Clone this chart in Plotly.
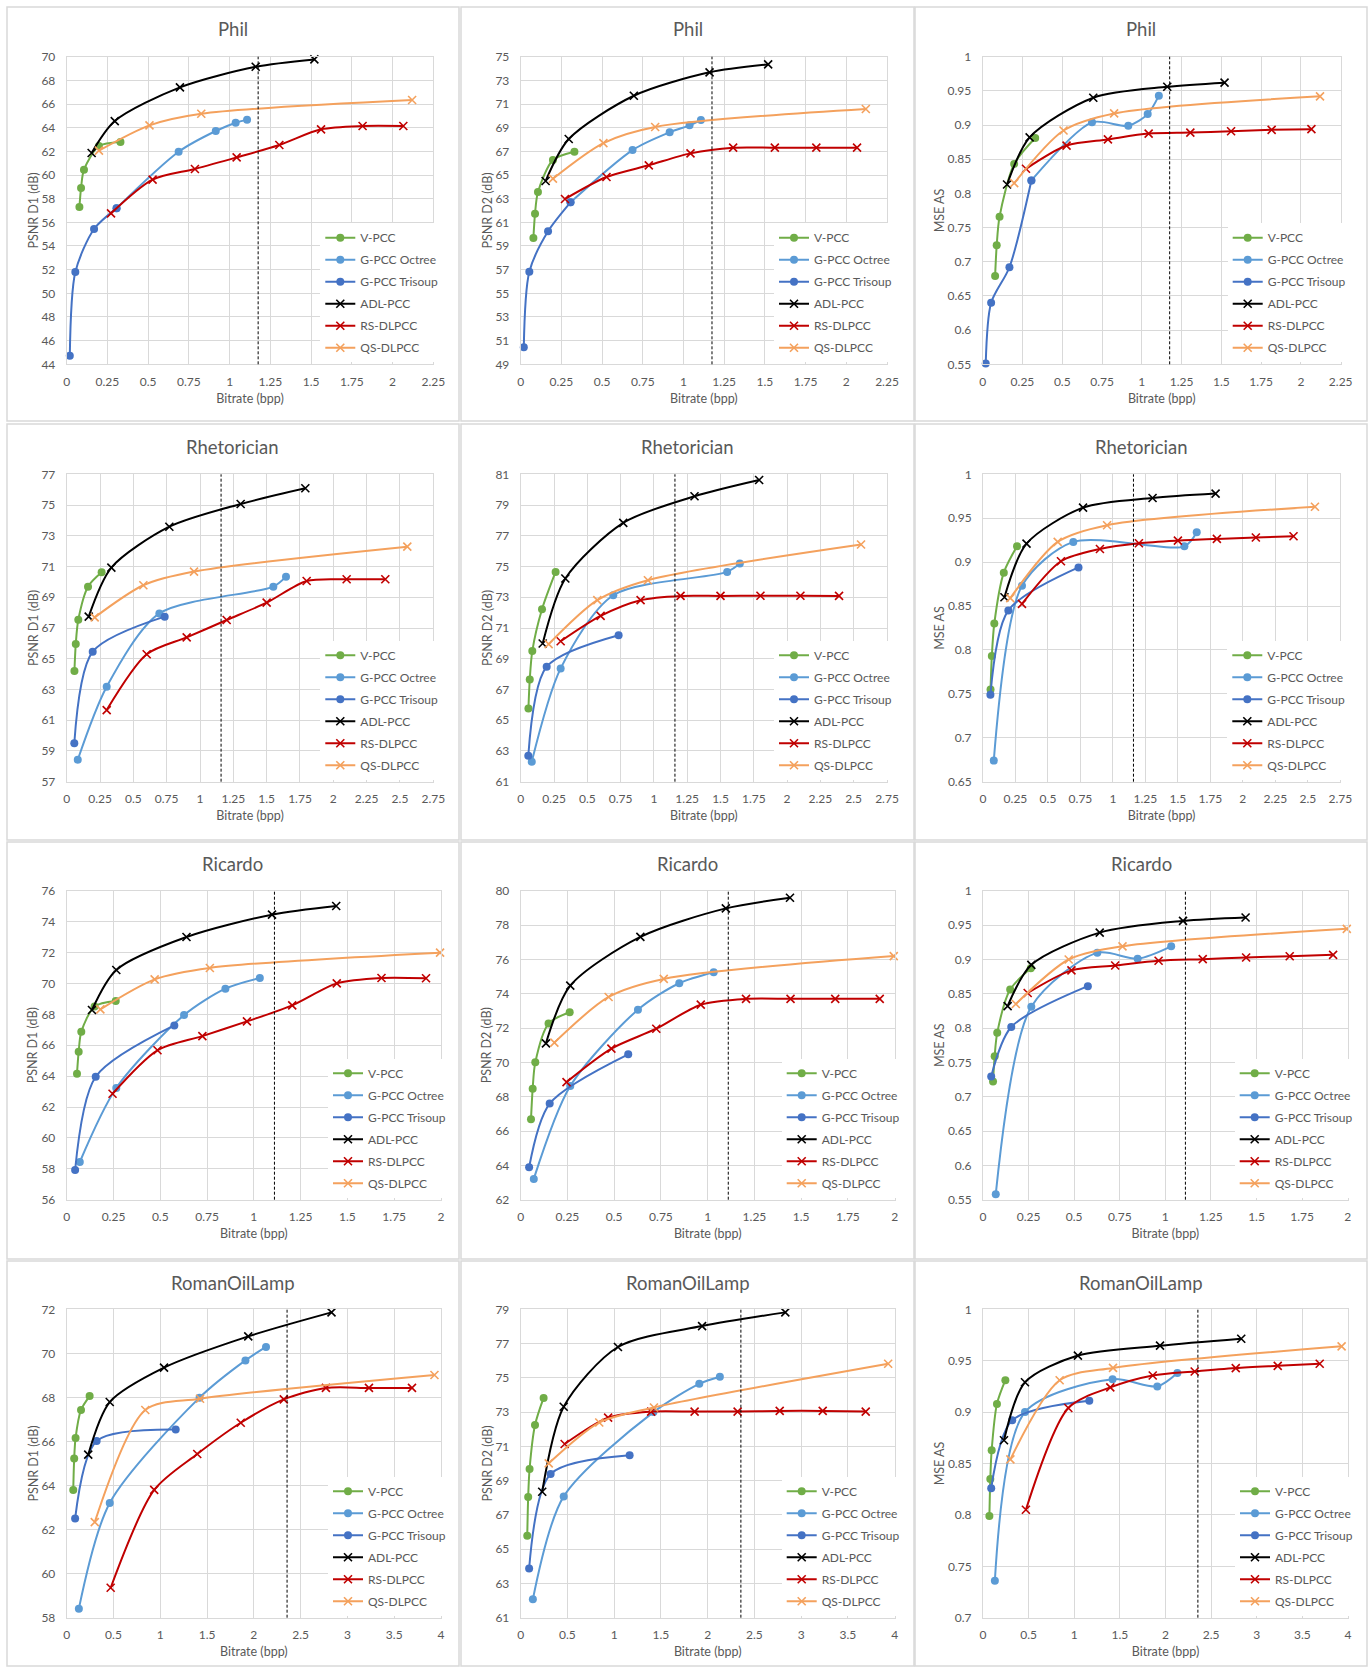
import plotly.graph_objects as go

W, H = 1372, 1669

DATASETS = ["Phil", "Rhetorician", "Ricardo", "RomanOilLamp"]
METRIC_TITLES = ["PSNR D1 (dB)", "PSNR D2 (dB)", "MSE AS"]
X_TITLE = "Bitrate (bpp)"
CODECS = ["V-PCC", "G-PCC Octree", "G-PCC Trisoup", "ADL-PCC", "RS-DLPCC", "QS-DLPCC"]

# ---------------- data (bitrate in bpp; one list per codec, CODECS order) -------------
PHIL_BPP = [
    [0.078, 0.088, 0.106, 0.198, 0.33],
    [0.306, 0.687, 0.915, 1.037, 1.107],
    [0.019, 0.053, 0.168, 0.306],
    [0.153, 0.295, 0.695, 1.16, 1.52],
    [0.272, 0.527, 0.787, 1.043, 1.305, 1.561, 1.816, 2.066],
    [0.198, 0.508, 0.826, 2.12],
]
PHIL_D1 = [
    [57.3, 58.9, 60.45, 62.45, 62.8],
    [57.2, 61.97, 63.72, 64.42, 64.68],
    [44.73, 51.8, 55.44, 57.18],
    [61.86, 64.56, 67.41, 69.15, 69.77],
    [56.76, 59.61, 60.51, 61.49, 62.54, 63.86, 64.14, 64.14],
    [62.06, 64.2, 65.18, 66.34],
]
PHIL_D2 = [
    [59.68, 61.73, 63.56, 66.27, 66.97],
    [62.69, 67.11, 68.61, 69.2, 69.65],
    [50.44, 56.83, 60.24, 62.69],
    [64.49, 68.04, 71.7, 73.68, 74.35],
    [62.97, 64.83, 65.82, 66.83, 67.31, 67.31, 67.31, 67.31],
    [64.69, 67.7, 69.06, 70.58],
]
PHIL_AS = [
    [0.679, 0.724, 0.766, 0.843, 0.881],
    [0.819, 0.904, 0.899, 0.916, 0.943],
    [0.551, 0.64, 0.692, 0.819],
    [0.813, 0.882, 0.94, 0.956, 0.962],
    [0.836, 0.87, 0.879, 0.8875, 0.889, 0.891, 0.893, 0.894],
    [0.815, 0.892, 0.917, 0.942],
]

RHET_BPP = [
    [0.058, 0.068, 0.087, 0.16, 0.262],
    [0.083, 0.3, 0.695, 1.55, 1.645],
    [0.057, 0.195, 0.735],
    [0.165, 0.335, 0.77, 1.305, 1.79],
    [0.3, 0.6, 0.9, 1.2, 1.5, 1.8, 2.1, 2.39],
    [0.21, 0.575, 0.955, 2.555],
]
RHET_D1 = [
    [64.2, 65.96, 67.54, 69.69, 70.62],
    [58.43, 63.18, 67.95, 69.69, 70.34],
    [59.5, 65.46, 67.74],
    [67.74, 70.93, 73.59, 75.07, 76.09],
    [61.66, 65.29, 66.39, 67.52, 68.65, 70.06, 70.17, 70.17],
    [67.69, 69.78, 70.67, 72.29],
]
RHET_D2 = [
    [65.77, 67.65, 69.5, 72.22, 74.65],
    [62.3, 68.37, 73.13, 74.65, 75.19],
    [62.69, 68.48, 70.53],
    [69.99, 74.22, 77.84, 79.57, 80.63],
    [70.14, 71.79, 72.81, 73.09, 73.09, 73.1, 73.1, 73.09],
    [69.95, 72.81, 74.11, 76.43],
]
RHET_AS = [
    [0.755, 0.793, 0.83, 0.888, 0.918],
    [0.674, 0.873, 0.923, 0.918, 0.934],
    [0.749, 0.845, 0.894],
    [0.86, 0.921, 0.962, 0.973, 0.978],
    [0.8525, 0.901, 0.915, 0.9215, 0.9245, 0.9264, 0.928, 0.9295],
    [0.859, 0.923, 0.942, 0.963],
]

RIC_BPP = [
    [0.055, 0.064, 0.078, 0.149, 0.262],
    [0.07, 0.265, 0.627, 0.848, 1.032],
    [0.045, 0.155, 0.575],
    [0.135, 0.265, 0.64, 1.097, 1.44],
    [0.245, 0.485, 0.725, 0.963, 1.205, 1.443, 1.682, 1.92],
    [0.18, 0.47, 0.765, 1.995],
]
RIC_D1 = [
    [64.16, 65.58, 66.87, 68.51, 68.86],
    [58.44, 63.23, 67.95, 69.66, 70.35],
    [57.92, 63.96, 67.28],
    [68.28, 70.87, 73.0, 74.45, 75.01],
    [62.86, 65.67, 66.59, 67.54, 68.58, 70.0, 70.35, 70.33],
    [68.32, 70.26, 71.0, 71.99],
]
RIC_D2 = [
    [66.69, 68.46, 70.0, 72.26, 72.92],
    [63.21, 68.62, 73.07, 74.61, 75.25],
    [63.89, 67.6, 70.47],
    [71.11, 74.47, 77.31, 78.97, 79.59],
    [68.85, 70.8, 71.96, 73.36, 73.7, 73.7, 73.7, 73.7],
    [71.15, 73.81, 74.86, 76.19],
]
RIC_AS = [
    [0.722, 0.759, 0.793, 0.856, 0.887],
    [0.558, 0.831, 0.9095, 0.901, 0.919],
    [0.7295, 0.8015, 0.861],
    [0.832, 0.892, 0.939, 0.956, 0.961],
    [0.851, 0.884, 0.891, 0.898, 0.9003, 0.9027, 0.9046, 0.9066],
    [0.835, 0.8998, 0.919, 0.9445],
]

ROMAN_BPP = [
    [0.07, 0.08, 0.095, 0.153, 0.245],
    [0.13, 0.46, 1.42, 1.91, 2.13],
    [0.09, 0.32, 1.165],
    [0.23, 0.46, 1.04, 1.94, 2.83],
    [0.47, 0.935, 1.395, 1.86, 2.32, 2.77, 3.23, 3.69],
    [0.3, 0.84, 1.425, 3.93],
]
ROMAN_D1 = [
    [63.8, 65.23, 66.16, 67.43, 68.06],
    [58.41, 63.21, 67.99, 69.68, 70.29],
    [62.5, 66.02, 66.54],
    [65.4, 67.79, 69.35, 70.77, 71.86],
    [59.36, 63.8, 65.43, 66.85, 67.91, 68.43, 68.43, 68.43],
    [62.34, 67.43, 67.94, 69.02],
]
ROMAN_D2 = [
    [65.78, 68.04, 69.68, 72.25, 73.83],
    [62.07, 68.08, 73.0, 74.65, 75.06],
    [63.87, 69.39, 70.48],
    [68.35, 73.31, 76.8, 78.02, 78.82],
    [71.14, 72.68, 73.03, 73.03, 73.03, 73.07, 73.07, 73.03],
    [70.01, 72.39, 73.27, 75.82],
]
ROMAN_AS = [
    [0.799, 0.835, 0.863, 0.908, 0.931],
    [0.736, 0.9, 0.932, 0.925, 0.938],
    [0.826, 0.892, 0.911],
    [0.8726, 0.929, 0.955, 0.9646, 0.9714],
    [0.805, 0.904, 0.924, 0.9356, 0.9395, 0.9428, 0.945, 0.947],
    [0.854, 0.931, 0.943, 0.964],
]

# dotted reference bitrate per dataset
DASH_X = [1.175, 1.158, 1.11, 2.355]

# axis scales
X_MAX = [2.25, 2.75, 2.0, 4.0]
X_DTICK = [0.25, 0.25, 0.25, 0.5]
Y_MIN = [[44, 49, 0.55], [57, 61, 0.65], [56, 62, 0.55], [58, 61, 0.7]]
Y_MAX = [[70, 75, 1.0], [77, 81, 1.0], [76, 80, 1.0], [72, 79, 1.0]]
Y_DTICK = [2, 2, 0.05]

BPP = [PHIL_BPP, RHET_BPP, RIC_BPP, ROMAN_BPP]
METRICS = [
    [PHIL_D1, PHIL_D2, PHIL_AS],
    [RHET_D1, RHET_D2, RHET_AS],
    [RIC_D1, RIC_D2, RIC_AS],
    [ROMAN_D1, ROMAN_D2, ROMAN_AS],
]

# ---------------- styling ----------------
COLORS = ["#70AD47", "#5B9BD5", "#4472C4", "#000000", "#C00000", "#F4A15D"]
SYMBOLS = ["circle", "circle", "circle", "x-thin-open", "x-thin-open", "x-thin-open"]
FONT = "Lato, 'Liberation Sans', Arial, sans-serif"
TXT = "#595959"
GRID = "#D9D9D9"

# layout geometry in pixels
PLOT_X = [
    [(66.7, 433.3), (520.7, 887.0), (982.7, 1340.7)],
    [(66.7, 433.3), (520.7, 887.0), (983.0, 1340.3)],
    [(66.7, 441.0), (520.7, 894.7), (983.0, 1347.7)],
    [(66.7, 441.0), (520.7, 894.7), (983.0, 1348.0)],
]
PLOT_Y = [(56.7, 364.3), (474.3, 781.7), (890.7, 1199.7), (1309.3, 1617.7)]
PANEL_X = [(7, 459), (461, 914), (915, 1367)]
PANEL_Y = [(7, 421), (424, 840), (842, 1259), (1261, 1666)]
TITLE_Y = [29, 447, 864, 1283]


def px(x):
    return x / W


def py(y):
    return 1 - y / H


fig = go.Figure()
layout = dict(
    width=W, height=H,
    margin=dict(l=0, r=0, t=0, b=0, pad=0, autoexpand=False),
    paper_bgcolor="white", plot_bgcolor="white",
    font=dict(family=FONT, color=TXT, size=12),
    showlegend=True,
)
shapes = []
annotations = []

for r in range(4):
    for c in range(3):
        n = r * 3 + 1 + c
        xa = "x" if n == 1 else f"x{n}"
        ya = "y" if n == 1 else f"y{n}"
        lg = "legend" if n == 1 else f"legend{n}"
        (xl, xr) = PLOT_X[r][c]
        (yt, yb) = PLOT_Y[r]

        for k, name in enumerate(CODECS):
            is_x = SYMBOLS[k] != "circle"
            fig.add_trace(go.Scatter(
                x=BPP[r][k], y=METRICS[r][c][k],
                xaxis=xa, yaxis=ya, legend=lg,
                name=name, legendgroup=f"{n}-{k}",
                mode="lines+markers",
                line=dict(color=COLORS[k], width=2, shape="spline", smoothing=0.8),
                marker=dict(symbol=SYMBOLS[k], size=8,
                            color=COLORS[k],
                            line=dict(color=COLORS[k], width=1.6 if is_x else 0)),
                cliponaxis=False,
            ))

        layout[f"xaxis{'' if n == 1 else n}"] = dict(
            domain=[px(xl), px(xr)], anchor=ya,
            range=[0, X_MAX[r]], dtick=X_DTICK[r], tick0=0,
            showgrid=True, gridcolor=GRID, gridwidth=1,
            zeroline=False, showline=True, linecolor=GRID, linewidth=1, mirror=True,
            ticks="", ticklabelstandoff=6, automargin=False,
            tickfont=dict(size=12, color=TXT, family=FONT),
            title=dict(text=X_TITLE, font=dict(size=12.5, color=TXT, family=FONT), standoff=6),
        )
        layout[f"yaxis{'' if n == 1 else n}"] = dict(
            domain=[py(yb), py(yt)], anchor=xa,
            range=[Y_MIN[r][c], Y_MAX[r][c]], dtick=Y_DTICK[c], tick0=Y_MIN[r][c],
            showgrid=True, gridcolor=GRID, gridwidth=1,
            zeroline=False, showline=True, linecolor=GRID, linewidth=1, mirror=True,
            ticks="", ticklabelstandoff=8, automargin=False,
            tickfont=dict(size=12, color=TXT, family=FONT),
            title=dict(text=METRIC_TITLES[c], font=dict(size=12.5, color=TXT, family=FONT), standoff=0),
        )
        layout[lg] = dict(
            x=px(xr - 113), xanchor="left",
            y=py(yb - 2), yanchor="bottom",
            bgcolor="white", borderwidth=0,
            font=dict(size=12, color=TXT, family=FONT),
            traceorder="grouped", tracegroupgap=3,
            itemwidth=30,
        )
        # dotted reference line
        shapes.append(dict(
            type="line", xref=xa, yref=f"{ya} domain",
            x0=DASH_X[r], x1=DASH_X[r], y0=0, y1=1,
            line=dict(color="#000000", width=1, dash="3px,2px"),
        ))
        # panel border
        (bl, br) = PANEL_X[c]
        (bt, bb) = PANEL_Y[r]
        shapes.append(dict(
            type="rect", xref="paper", yref="paper",
            x0=px(bl), x1=px(br), y0=py(bb), y1=py(bt),
            line=dict(color=GRID, width=1.5), fillcolor="rgba(0,0,0,0)", layer="below",
        ))
        annotations.append(dict(
            text=DATASETS[r], xref="paper", yref="paper",
            x=px((bl + br) / 2), y=py(TITLE_Y[r]), xanchor="center", yanchor="middle",
            showarrow=False, font=dict(size=18.5, color=TXT, family=FONT),
        ))

layout["shapes"] = shapes
layout["annotations"] = annotations
fig.update_layout(**layout)
fig.write_html(
    "out.html",
    config={"displayModeBar": False},
    post_script="document.body.style.margin='0px';document.body.style.padding='0px';",
)
